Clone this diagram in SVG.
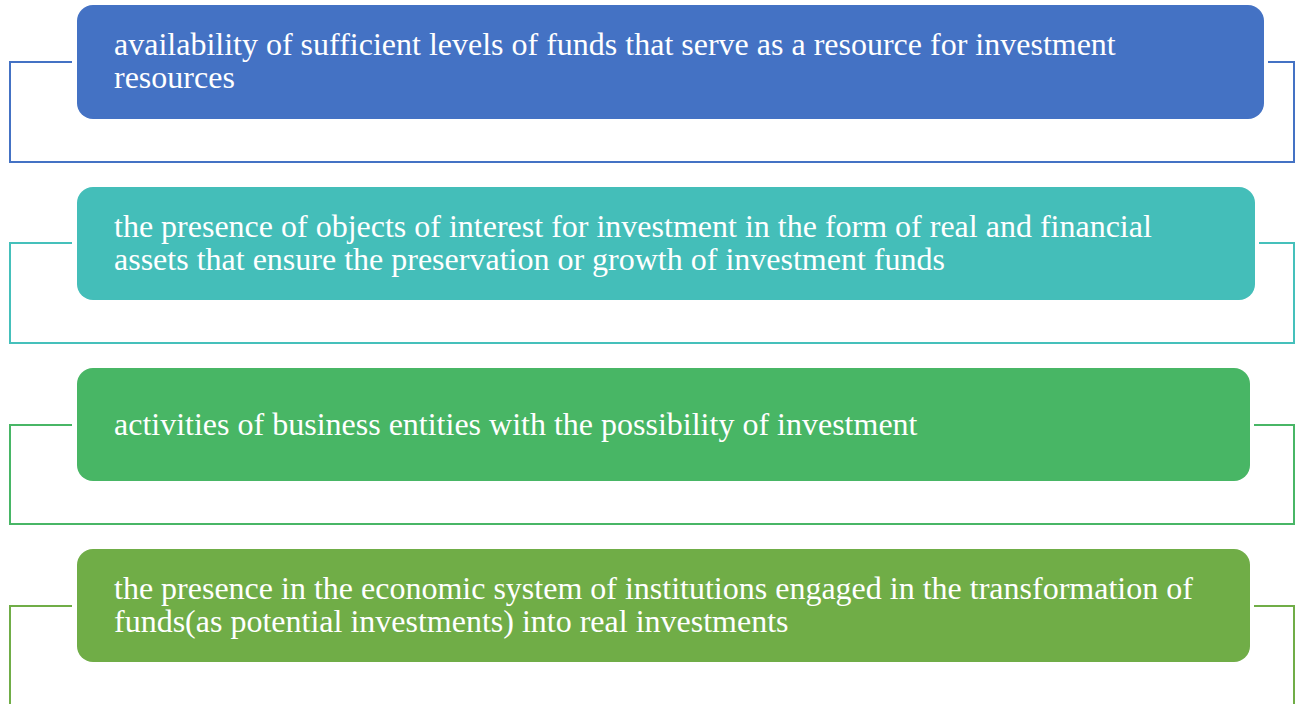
<svg xmlns="http://www.w3.org/2000/svg" width="1301" height="704" viewBox="0 0 1301 704">
  <style>
    .bg { fill: #ffffff; }
    .box text { font-family: "Liberation Serif", "Times New Roman", serif; font-size: 32px; fill: #ffffff; }
    .bracket { fill: none; stroke-width: 2; }
  </style>
  <rect class="bg" x="0" y="0" width="1301" height="704"/>

  <!-- bracket frames around each item -->
  <g id="connectors">
    <path class="bracket" stroke="#4472C4" d="M72,62 H10 V162 H1294 V62 H1268"/>
    <path class="bracket" stroke="#45C0BB" d="M72,243 H10 V343 H1294 V243 H1259"/>
    <path class="bracket" stroke="#48B666" d="M72,425 H10 V524 H1294 V425 H1254"/>
    <path class="bracket" stroke="#70AD47" d="M72,606 H10 V720 M1294,720 V606 H1254"/>
  </g>

  <g id="item-1" class="box">
    <rect x="77" y="5" width="1187" height="114" rx="16" fill="#4472C4"/>
    <text x="114" y="55">availability of sufficient levels of funds that serve as a resource for investment</text>
    <text x="114" y="88">resources</text>
  </g>

  <g id="item-2" class="box">
    <rect x="77" y="187" width="1178" height="113" rx="16" fill="#44BEB9"/>
    <text x="114" y="237">the presence of objects of interest for investment in the form of real and financial</text>
    <text x="114" y="270">assets that ensure the preservation or growth of investment funds</text>
  </g>

  <g id="item-3" class="box">
    <rect x="77" y="368" width="1173" height="113" rx="16" fill="#48B665"/>
    <text x="114" y="435">activities of business entities with the possibility of investment</text>
  </g>

  <g id="item-4" class="box">
    <rect x="77" y="549" width="1173" height="113" rx="16" fill="#70AD47"/>
    <text x="114" y="599">the presence in the economic system of institutions engaged in the transformation of</text>
    <text x="114" y="632">funds(as potential investments) into real investments</text>
  </g>
</svg>
